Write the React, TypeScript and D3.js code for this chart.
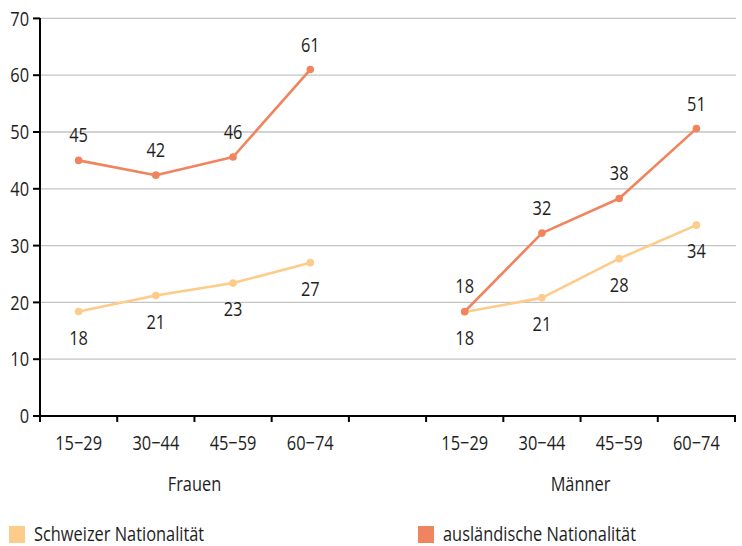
import React from "react";
import * as d3 from "d3";

const groups = ["Frauen", "Männer"];
const ageGroups = ["15−29", "30−44", "45−59", "60−74"];
const schweizer = [18.4, 21.2, 23.4, 27.0, 18.3, 20.8, 27.7, 33.6];
const auslaendisch = [45.0, 42.4, 45.6, 61.0, 18.4, 32.2, 38.3, 50.6];
const yTicks = [0, 10, 20, 30, 40, 50, 60, 70];
const seriesNames = ["Schweizer Nationalität", "ausländische Nationalität"];

const W = 742;
const H = 546;
const M = { left: 40, right: 735, top: 18.4, bottom: 416 };

const FONT = "'Open Sans', sans-serif";
const FS = 20;
const SX = 0.82; // horizontal condensing
const DH = 14.3; // approx digit height
const TXT = "#1e1e1e";
const C_SCH = "#FDCB8A";
const C_AUS = "#F0845E";

// slots: 4 Frauen, 1 gap, 4 Männer
const slots: string[] = [];
groups.forEach((g, gi) => {
  ageGroups.forEach((a) => slots.push(g + "|" + a));
  if (gi < groups.length - 1) slots.push("gap");
});
const dataSlots = slots.filter((s) => s !== "gap");

function T({ x, y, anchor = "start", children }: { x: number; y: number; anchor?: string; children: React.ReactNode }) {
  return (
    <text
      transform={`translate(${x},${y}) scale(${SX},1)`}
      textAnchor={anchor}
      fontSize={FS}
      fill={TXT}
    >
      {children}
    </text>
  );
}

export default function App() {
  const x = d3.scaleBand<number>().domain(d3.range(slots.length)).range([M.left, M.right]).padding(0);
  const y = d3.scaleLinear().domain([0, 70]).range([M.bottom, M.top]);
  const slotIndex = (k: number) => slots.indexOf(dataSlots[k]);
  const cx = (k: number) => (x(slotIndex(k)) as number) + x.bandwidth() / 2;

  const groupPaths = (vals: number[]) =>
    groups.map((_, gi) => {
      const idx = d3.range(gi * ageGroups.length, (gi + 1) * ageGroups.length);
      return d3
        .line<number>()
        .x((k) => cx(k))
        .y((k) => y(vals[k]))(idx) as string;
    });

  const boundaries = d3.range(slots.length + 1).map((i) =>
    i < slots.length ? (x(i) as number) : M.right
  );

  const series = [
    { name: seriesNames[0], vals: schweizer, color: C_SCH, above: false },
    { name: seriesNames[1], vals: auslaendisch, color: C_AUS, above: true },
  ];

  return (
    <svg width={W} height={H} style={{ position: "absolute", left: 0, top: 0 }} fontFamily={FONT}>
      <rect width={W} height={H} fill="#fff" />
      {/* gridlines */}
      {yTicks.filter((t) => t > 0).map((t) => (
        <line key={t} x1={M.left} x2={M.right + 1} y1={y(t)} y2={y(t)} stroke="#c4c4c4" strokeWidth={1.3} />
      ))}
      {/* y axis */}
      <line x1={M.left} x2={M.left} y1={M.top - 0.5} y2={M.bottom + 6} stroke="#000" strokeWidth={2} />
      {yTicks.map((t) => (
        <g key={"yt" + t}>
          <line x1={M.left - 7} x2={M.left} y1={y(t)} y2={y(t)} stroke="#000" strokeWidth={2} />
          <T x={29} y={y(t) + DH / 2} anchor="end">
            {t}
          </T>
        </g>
      ))}
      {/* x axis */}
      <line x1={M.left - 1} x2={M.right + 1} y1={M.bottom} y2={M.bottom} stroke="#000" strokeWidth={2} />
      {boundaries.map((b, i) => (
        <line key={"xt" + i} x1={b} x2={b} y1={M.bottom} y2={M.bottom + 6} stroke="#000" strokeWidth={2} />
      ))}
      {slots.map((s, i) =>
        s === "gap" ? null : (
          <T key={"xl" + i} x={(x(i) as number) + x.bandwidth() / 2} y={449.5} anchor="middle">
            {s.split("|")[1]}
          </T>
        )
      )}
      {groups.map((g) => {
        const i0 = slots.indexOf(g + "|" + ageGroups[0]);
        const i1 = slots.indexOf(g + "|" + ageGroups[ageGroups.length - 1]);
        const mid = ((x(i0) as number) + (x(i1) as number) + x.bandwidth()) / 2;
        return (
          <T key={g} x={mid} y={490.5} anchor="middle">
            {g}
          </T>
        );
      })}
      {/* lines */}
      {series.map((s) => (
        <g key={s.name}>
          {groupPaths(s.vals).map((p, i) => (
            <path key={i} d={p} fill="none" stroke={s.color} strokeWidth={2.6} strokeLinejoin="round" />
          ))}
          {s.vals.map((v, k) => (
            <circle key={k} cx={cx(k)} cy={y(v)} r={3.8} fill={s.color} />
          ))}
        </g>
      ))}
      {/* data labels */}
      {series.map((s) =>
        s.vals.map((v, k) => (
          <T key={s.name + "l" + k} x={cx(k)} y={s.above ? y(v) - 18 : y(v) + 19 + DH} anchor="middle">
            {Math.round(v)}
          </T>
        ))
      )}
      {/* legend */}
      <rect x={9} y={526} width={16} height={17} fill={C_SCH} />
      <T x={34} y={541}>
        {seriesNames[0]}
      </T>
      <rect x={418} y={526} width={16} height={17} fill={C_AUS} />
      <T x={443} y={541}>
        {seriesNames[1]}
      </T>
    </svg>
  );
}
